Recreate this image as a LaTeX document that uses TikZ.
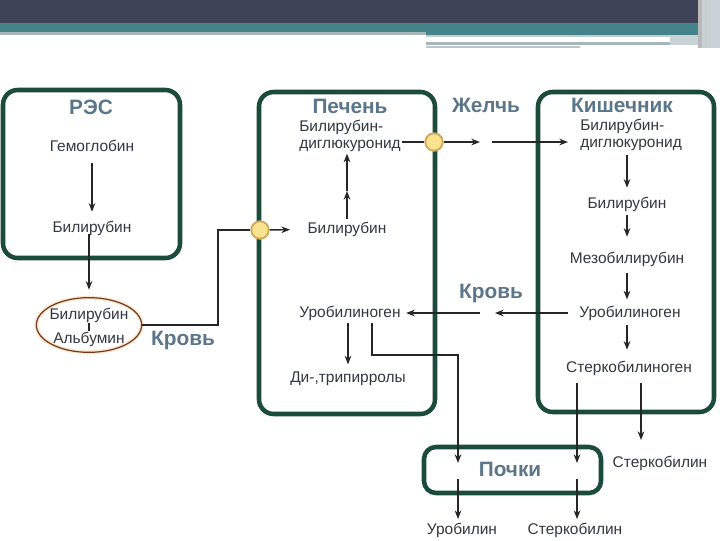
\documentclass[tikz,border=0pt]{standalone}
\usepackage{fontspec}
\setmainfont{Liberation Sans}
\usetikzlibrary{arrows.meta,shapes.geometric}
\definecolor{hdrdark}{HTML}{3E4455}
\definecolor{hdrteal}{HTML}{45838B}
\definecolor{hdrgray}{HTML}{A7B6BB}
\definecolor{hdrlight}{HTML}{C9D3D6}
\definecolor{boxgreen}{HTML}{1B4B3B}
\definecolor{ttlcol}{HTML}{5B7689}
\definecolor{txtcol}{HTML}{333740}
\definecolor{dotfill}{HTML}{F8E48E}
\definecolor{dotedge}{HTML}{D2A85A}
\definecolor{ellcol}{HTML}{6E3B22}
\definecolor{ellglow}{HTML}{FAE6CC}
\begin{document}
\begin{tikzpicture}[x=0.75pt,y=-0.75pt,
  boxframe/.style={draw=boxgreen,line width=3.4pt,rounded corners=11pt},
  ttl/.style={font=\fontsize{15.6}{17}\selectfont\bfseries,text=ttlcol,inner sep=0pt},
  lbl/.style={font=\fontsize{11.6}{12.75}\selectfont,text=txtcol,inner sep=1pt,text height=8pt,text depth=2pt},
  arr/.style={draw=black!85,line width=1.1pt,-{Stealth[length=6.5pt,width=5pt]}},
  ln/.style={draw=black!85,line width=1.1pt},
  junction/.style={circle,fill=dotfill,draw=dotedge,line width=1.3pt,minimum size=13pt,inner sep=0pt}]
\useasboundingbox (0,0) rectangle (720,540);

% header
\fill[hdrdark] (0,0) rectangle (720,23);
\fill[hdrteal] (0,23) rectangle (698,32);
\fill[hdrteal] (426,32) rectangle (698,35);
\fill[hdrgray] (0,32) rectangle (426,35);
\fill[hdrgray!70] (426,35) rectangle (698,37);
\fill[hdrgray] (426,42) rectangle (670,45);
\fill[hdrlight] (670,35) rectangle (698,45);
\fill[hdrgray!80] (426,46) rectangle (580,48);
\fill[gray!55] (698,0) rectangle (702,48);
\fill[hdrlight] (702,0) rectangle (720,48);
\fill[gray!40] (705,0) rectangle (707,48);

% frames
\draw[boxframe] (3,90) rectangle (180,258);
\draw[boxframe] (259,92) rectangle (435,414);
\draw[boxframe] (538,92) rectangle (714,412);
\draw[boxframe,rounded corners=9pt] (424,447) rectangle (601,493);

% titles
\node[ttl] (res) at (91,107) {РЭС};
\node[ttl] (liv) at (350,106) {Печень};
\node[ttl] (bile) at (486,105) {Желчь};
\node[ttl] (gut) at (622,105) {Кишечник};
\node[ttl] (blood1) at (183,340) {Кровь};
\node[ttl] (blood2) at (491,293) {Кровь};
\node[ttl] (kid) at (510,469) {Почки};

% RES
\node[lbl] (hb) at (92,147) {Гемоглобин};
\node[lbl] (br1) at (92,228) {Билирубин};
\node[ellipse,draw=ellcol,line width=0.9pt,preaction={draw=ellglow,line width=3pt},
      minimum width=79pt,minimum height=41pt] (alb) at (89,325) {};
\node[lbl] (ab1) at (89,315) {Билирубин};
\node[lbl] (ab2) at (89,339) {Альбумин};
\draw[line width=0.8pt,black!85] (ab1.south) -- (ab2.north);

% liver
\node[lbl,align=left] (dg1) at (350,144) {Билирубин-\\диглюкуронид};
\node[lbl] (br2) at (347,229) {Билирубин};
\node[lbl] (ur1) at (350,313) {Уробилиноген};
\node[lbl] (di) at (348,378) {Ди-,трипирролы};

% gut
\node[lbl,align=left] (dg2) at (631,143) {Билирубин-\\диглюкуронид};
\node[lbl] (kb) at (627,204) {Билирубин};
\node[lbl] (mz) at (627,259) {Мезобилирубин};
\node[lbl] (ub2) at (630,313) {Уробилиноген};
\node[lbl] (st) at (629,368) {Стеркобилиноген};

% bottom labels
\node[lbl] (urb) at (462,530) {Уробилин};
\node[lbl] (stb) at (575,530) {Стеркобилин};
\node[lbl] (stk) at (660,463) {Стеркобилин};

% junction points
\node[junction] (d1) at (260,230) {};
\node[junction] (d2) at (434,142) {};
\coordinate (k1) at (218,230);
\coordinate (g1) at (480,142);
\coordinate (g2) at (492,142);
\coordinate (b1) at (495,313);
\coordinate (b2) at (480,313);
\coordinate (c1) at (372,355);
\coordinate (pk1) at (458,463);
\coordinate (pk2) at (458,479);
\coordinate (s1) at (577,463);
\coordinate (s2) at (577,479);
\coordinate (s3) at (641,440);
\coordinate (m1) at (347,191);

% connectors
\draw[arr,shorten <=6pt,shorten >=6pt] (hb.south) -- (br1.north);
\draw[arr,shorten <=-2pt,shorten >=5.5pt] (br1.south -| alb.north) -- (alb.north);
\draw[ln] (alb.east) -| (k1) -- (d1);
\draw[arr,shorten >=12pt] (d1) -- (br2);
\draw[arr,shorten <=1pt] (br2.north) -- (m1);
\draw[arr,shorten >=1pt] (m1) -- (m1 |- dg1.south);
\draw[ln] (dg1.east |- d2) -- (d2);
\draw[arr] (d2) -- (g1);
\draw[arr,shorten >=8pt] (g2) -- (dg2.west |- g2);
\draw[arr,shorten <=3pt,shorten >=6pt] (dg2.south -| kb) -- (kb.north);
\draw[arr,shorten <=2pt,shorten >=10.5pt] (kb.south) -- (kb.south |- mz.north);
\draw[arr,shorten <=4.5pt,shorten >=4pt] (mz.south) -- (mz.south |- ub2.north);
\draw[arr,shorten <=3pt,shorten >=7.5pt] (ub2.south -| mz) -- (mz |- st.north);
\draw[arr,shorten <=7.5pt] (ub2.west) -- (b1);
\draw[arr,shorten >=3pt] (b2) -- (ur1.east);
\draw[arr,shorten <=1.5pt,shorten >=4pt] (ur1.south -| di) -- (di.north);
\draw[arr,shorten <=1.5pt] (ur1.south -| c1) -- (c1) -| (pk1);
\draw[arr,shorten >=2pt] (pk2) -- (pk2 |- urb.north);
\draw[arr,shorten <=5pt] (s1 |- st.south) -- (s1);
\draw[arr,shorten >=2pt] (s2) -- (s2 |- stb.north);
\draw[arr,shorten <=5pt] (s3 |- st.south) -- (s3);

% junctions on top
\node[junction] at (d1) {};
\node[junction] at (d2) {};
\end{tikzpicture}
\end{document}
